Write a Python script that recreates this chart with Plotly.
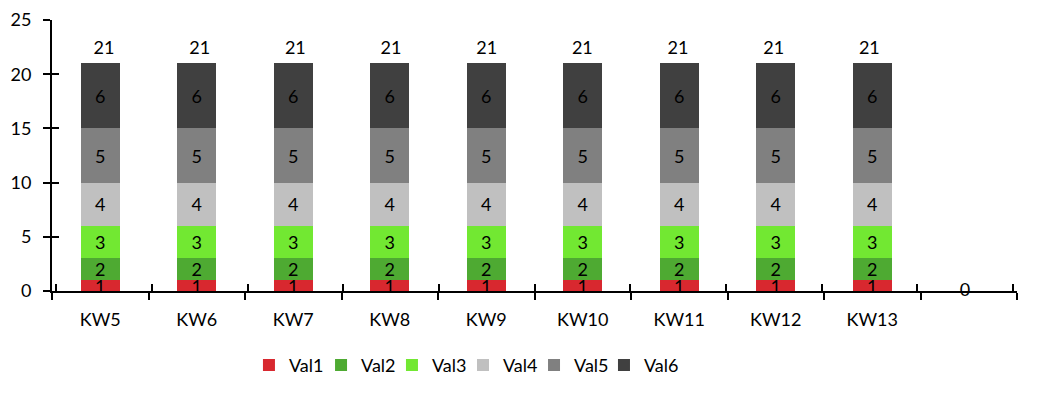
import plotly.graph_objects as go

categories = ["KW5", "KW6", "KW7", "KW8", "KW9", "KW10", "KW11", "KW12", "KW13", " "]
val1 = [1, 1, 1, 1, 1, 1, 1, 1, 1, None]
val2 = [2, 2, 2, 2, 2, 2, 2, 2, 2, None]
val3 = [3, 3, 3, 3, 3, 3, 3, 3, 3, None]
val4 = [4, 4, 4, 4, 4, 4, 4, 4, 4, None]
val5 = [5, 5, 5, 5, 5, 5, 5, 5, 5, None]
val6 = [6, 6, 6, 6, 6, 6, 6, 6, 6, None]
totals = [21, 21, 21, 21, 21, 21, 21, 21, 21, 0]

names = ["Val1", "Val2", "Val3", "Val4", "Val5", "Val6"]
values = [val1, val2, val3, val4, val5, val6]
colors = ["#D8282F", "#4EAA32", "#72E832", "#C0C0C0", "#808080", "#404040"]
legend_x = [0.2041, 0.2788, 0.3523, 0.4259, 0.4995, 0.5720]

FONT = "Lato, Carlito, Calibri, Liberation Sans, sans-serif"
FS = 18
Y_RANGE = [0, 25]

fig = go.Figure()
for i, (name, vals, color) in enumerate(zip(names, values, colors)):
    lg = "legend" if i == 0 else f"legend{i + 1}"
    fig.add_trace(go.Bar(
        x=categories, y=vals, name=name, marker=dict(color=color, line=dict(width=0)),
        text=[str(v) if v is not None else "" for v in vals],
        textposition="inside", insidetextanchor="middle", textangle=0,
        textfont=dict(color="black", size=FS, family=FONT),
        constraintext="none", legend=lg,
    ))

# totals on overlay axes (their inside ticks complete the crossing tick marks)
fig.add_trace(go.Scatter(
    x=categories, y=totals, mode="markers+text", text=[str(t) for t in totals],
    marker=dict(size=6, color="rgba(0,0,0,0)"),
    textposition=["top center"] * 9 + ["middle center"],
    textfont=dict(color="black", size=FS, family=FONT),
    showlegend=False, hoverinfo="skip", cliponaxis=False,
    xaxis="x2", yaxis="y2",
))

legends = {}
for i, lx in enumerate(legend_x):
    key = "legend" if i == 0 else f"legend{i + 1}"
    legends[key] = dict(orientation="h", x=lx, xanchor="left", y=-0.274, yanchor="middle",
                        font=dict(size=FS, family=FONT), itemwidth=30,
                        bgcolor="rgba(0,0,0,0)")

fig.update_layout(
    width=1048, height=396,
    margin=dict(l=52, r=31, t=20, b=96),
    barmode="stack", bargap=0.6,
    plot_bgcolor="white", paper_bgcolor="white",
    font=dict(family=FONT, size=FS, color="black"),
    uniformtext=dict(minsize=FS, mode="show"),
    showlegend=True,
    xaxis2=dict(type="category", overlaying="x", side="bottom", anchor="y2",
                categoryorder="array", categoryarray=categories,
                showline=False, ticks="inside", ticklen=7, tickcolor="black", tickwidth=2,
                tickson="boundaries", showticklabels=False, showgrid=False, zeroline=False,
                automargin=False),
    yaxis2=dict(range=Y_RANGE, dtick=5, tick0=0, overlaying="y", side="left", anchor="x2",
                showline=False, ticks="inside", ticklen=7, tickcolor="black", tickwidth=2,
                showticklabels=False, showgrid=False, zeroline=False, automargin=False),
    **legends,
)
fig.layout.xaxis.update(
    type="category", categoryorder="array", categoryarray=categories,
    showline=True, linecolor="black", linewidth=2,
    ticks="outside", ticklen=7, tickcolor="black", tickwidth=2, tickson="boundaries",
    ticklabelstandoff=11, showgrid=False, zeroline=False, automargin=False,
    tickfont=dict(size=FS, family=FONT, color="black"),
)
fig.layout.yaxis.update(
    range=Y_RANGE, dtick=5, tick0=0, showline=True, linecolor="black", linewidth=2,
    ticks="outside", ticklen=7, tickcolor="black", tickwidth=2,
    showgrid=False, zeroline=False, ticklabelstandoff=8, automargin=False,
    ticklabeloverflow="allow",
    tickfont=dict(size=FS, family=FONT, color="black"),
)

fig.write_html(
    "out.html",
    config={"displayModeBar": False},
    post_script="document.documentElement.style.margin='0';document.body.style.margin='0';"
                "document.body.style.overflow='hidden';",
)
